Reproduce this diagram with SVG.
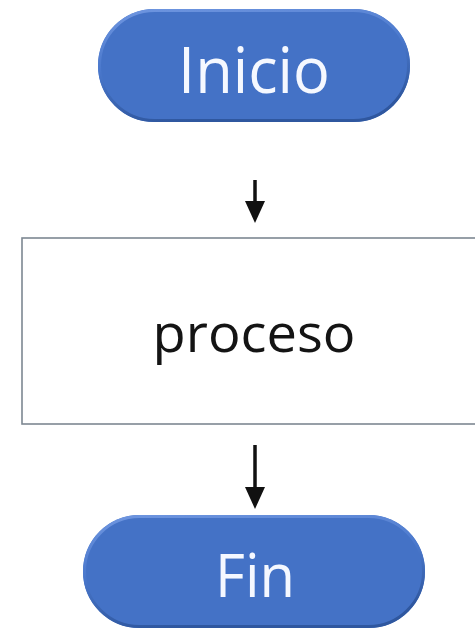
<svg xmlns="http://www.w3.org/2000/svg" width="475" height="629" viewBox="0 0 475 629">
  <style>
    .pill { fill: #4472c6; }
    .pill-edge { fill: none; stroke: url(#bevel); stroke-width: 3; }
    .pill-text { font-family: "Open Sans", "Noto Sans", sans-serif; fill: #f5f8ff; text-anchor: middle; }
    .box { fill: #ffffff; stroke: #7d8892; stroke-width: 1.6; }
    .box-text { font-family: "Open Sans", "Noto Sans", sans-serif; fill: #141414; text-anchor: middle; }
    .flow { stroke: #111; stroke-width: 3.5; fill: none; marker-end: url(#head); }
  </style>
  <defs>
    <linearGradient id="bevel" x1="0" y1="0" x2="0.3" y2="1">
      <stop offset="0" stop-color="#6f96e0"/>
      <stop offset="0.5" stop-color="#4a78cc"/>
      <stop offset="1" stop-color="#2f579f"/>
    </linearGradient>
    <!-- solid triangular head, drawn forward from the end of the shaft -->
    <marker id="head" markerUnits="userSpaceOnUse" markerWidth="24" markerHeight="24" refX="0" refY="0" orient="auto" overflow="visible">
      <path d="M0,-10 L22,0 L0,10 Z" fill="#111"/>
    </marker>
  </defs>

  <rect width="475" height="629" fill="#ffffff"/>

  <g id="connectors">
    <line class="flow" x1="255" y1="180" x2="255" y2="201"/>
    <line class="flow" x1="255" y1="445" x2="255" y2="487"/>
  </g>

  <g id="inicio">
    <rect class="pill" x="98" y="9" width="312" height="113" rx="56.5"/>
    <rect class="pill-edge" x="99.5" y="10.5" width="309" height="110" rx="55"/>
    <text class="pill-text" x="254" y="93" font-size="64" textLength="152" lengthAdjust="spacingAndGlyphs">Inicio</text>
  </g>

  <g id="proceso">
    <rect class="box" x="22" y="238" width="470" height="186"/>
    <text class="box-text" x="254" y="352" font-size="53" textLength="203" lengthAdjust="spacingAndGlyphs">proceso</text>
  </g>

  <g id="fin">
    <rect class="pill" x="83" y="515" width="342" height="113" rx="56.5"/>
    <rect class="pill-edge" x="84.5" y="516.5" width="339" height="110" rx="55"/>
    <text class="pill-text" x="255" y="597" font-size="61" textLength="80" lengthAdjust="spacingAndGlyphs">Fin</text>
  </g>
</svg>
